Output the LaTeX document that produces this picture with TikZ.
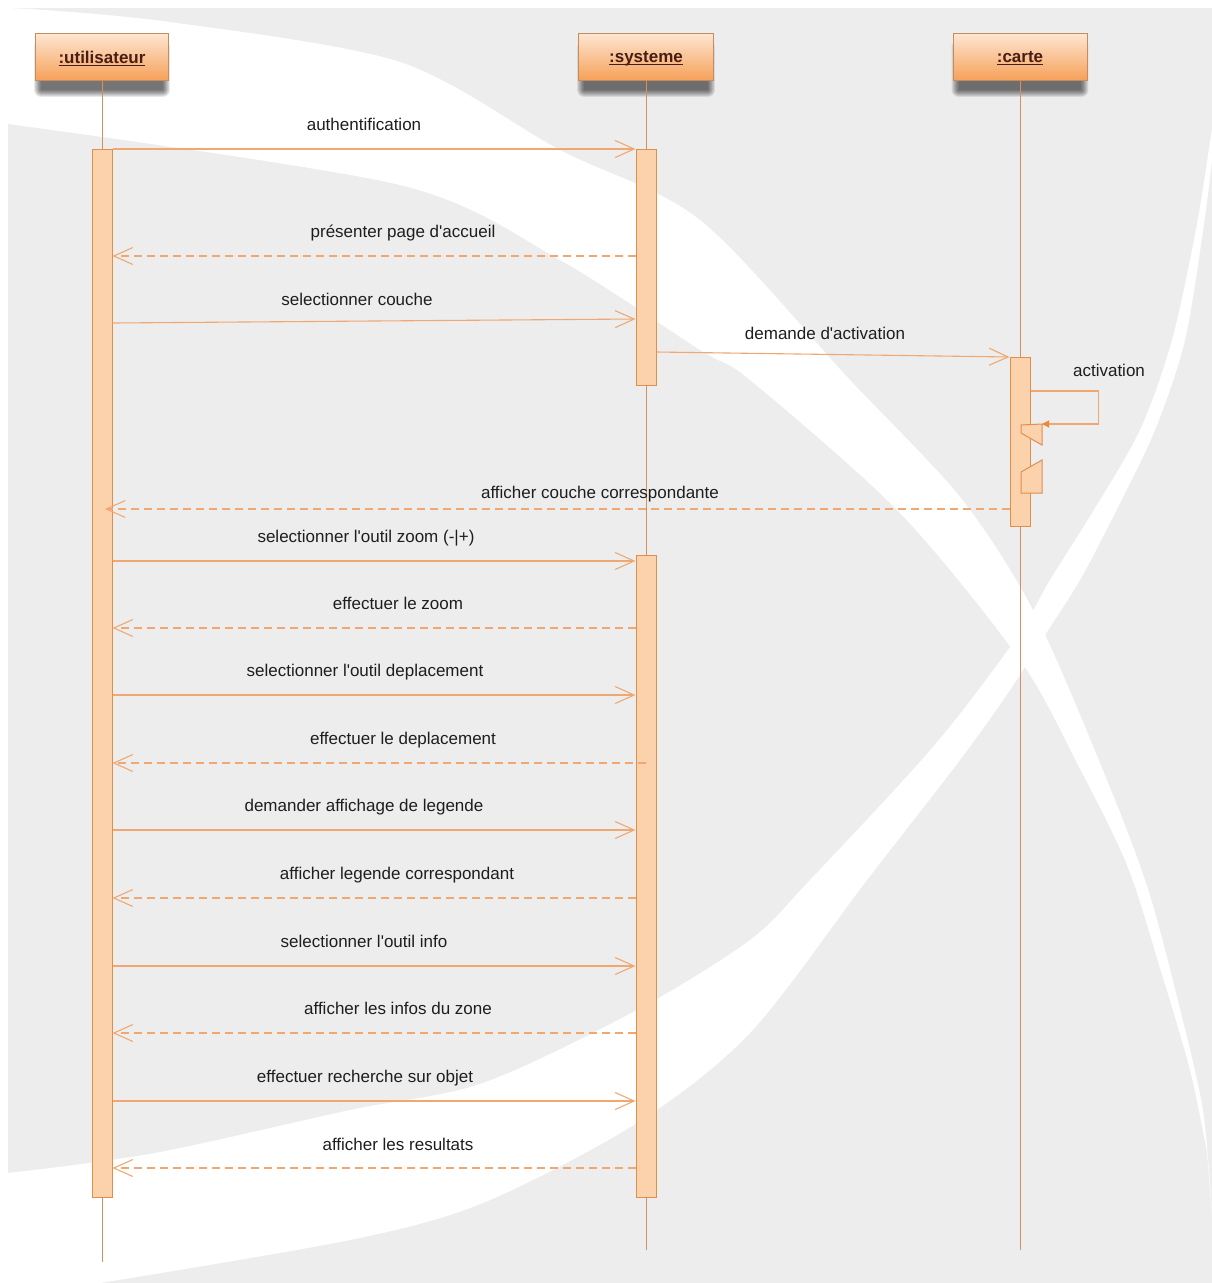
\documentclass[tikz,border=0pt]{standalone}
\usepackage{fontspec}
\setmainfont{Liberation Sans}
\usetikzlibrary{arrows.meta,calc}

\definecolor{backdropgray}{RGB}{237,237,237}
\definecolor{msgcol}{RGB}{240,168,112}
\definecolor{lifecol}{RGB}{210,146,96}
\definecolor{actfill}{RGB}{252,210,172}
\definecolor{actedge}{RGB}{224,142,76}
\definecolor{headtop}{RGB}{253,230,210}
\definecolor{headbot}{RGB}{246,160,88}
\definecolor{headedge}{RGB}{198,140,94}
\definecolor{headtext}{RGB}{72,30,20}
\definecolor{labeltext}{RGB}{30,30,30}
\definecolor{tipcol}{RGB}{236,138,52}

\newcommand\apos{\textquotesingle}
% underlined object name for lifeline heads
\newcommand\headul[1]{\setbox0=\hbox{#1}\dimen0=\wd0\relax
  \leavevmode\rlap{\rule[-2.5pt]{\dimen0}{1.1pt}}\box0}

\pgfdeclarelayer{backdrop}
\pgfsetlayers{backdrop,main}

\begin{document}
\begin{tikzpicture}[x=1pt,y=-1pt,
  lifehead/.style={draw=headedge, line width=0.8pt, top color=headtop, bottom color=headbot,
    minimum height=47pt, inner sep=0pt, text depth=0pt,
    font=\fontsize{17}{20}\selectfont\bfseries, text=headtext},
  actbar/.style={draw=actedge, fill=actfill, line width=1pt, minimum width=20pt, inner sep=0pt},
  nested/.style={draw=actedge, fill=actfill, line width=1pt, line join=miter},
  life/.style={draw=lifecol, line width=1pt},
  call/.style={draw=msgcol, line width=1.1pt, -{Straight Barb[length=19pt,width=17pt,line width=1.1pt]}},
  reply/.style={call, dash pattern=on 8pt off 5pt},
  selfcall/.style={draw=msgcol, line width=1.1pt, -{Triangle[length=7pt,width=7pt,color=tipcol,fill=tipcol]}},
  lbl/.style={font=\fontsize{17}{20}\selectfont, text=labeltext, inner sep=0pt, anchor=base},
]
\useasboundingbox (0,0) rectangle (1212,1283);

% ---------- backdrop: grey field crossed by two white swooshes ----------
\begin{pgfonlayer}{backdrop}
  \fill[white] (0,0) rectangle (1212,1283);
  \fill[backdropgray] (8,8) rectangle (1212,1283);
  % swoosh running from the top left down to the right edge
  \fill[white] (8,8) -- plot[smooth,tension=0.5] coordinates {(30,9) (170,22) (400,62) (560,150) (700,220) (850,380) (960,497) (1033,610) (1100,763) (1147,886) (1180,1009) (1203,1111) (1212,1214)}
    -- plot[smooth,tension=0.5] coordinates {(1207,1152) (1190,1070) (1160,968) (1127,865) (1077,763) (1020,660) (900,513) (750,380) (700,350) (560,260) (400,185) (8,124)} -- cycle;
  % swoosh running from the bottom left up to the right edge
  \fill[white] plot[smooth,tension=0.5] coordinates {(1212,128) (1197,224) (1172,340) (1140,430) (1092,513) (1050,580) (1015,640) (933,747) (810,880) (750,940) (637,1010) (483,1083) (350,1110) (155,1153) (8,1173)}
    -- (0,1173) -- (0,1283)
    -- plot[smooth,tension=0.5] coordinates {(100,1283) (350,1240) (483,1203) (637,1123) (750,1033) (867,880) (960,760) (1010,690) (1045,635) (1080,580) (1115,513) (1155,430) (1185,340) (1204,224) (1212,160)} -- cycle;
\end{pgfonlayer}

% ---------- lifeline heads ----------
\node[lifehead, minimum width=133pt] (u) at (102,57) {\headul{:utilisateur}};
\node[lifehead, minimum width=135pt] (s) at (646,57) {\headul{:systeme}};
\node[lifehead, minimum width=134pt] (c) at (1020,57) {\headul{:carte}};

% soft drop shadows under the heads
\begin{pgfonlayer}{backdrop}
  \foreach \h in {u,s,c}{
    \foreach \r in {0,1,...,7}{
      \fill[black, opacity=0.09, rounded corners=\r pt]
        ($(\h.north west)+(6-\r,14-\r)$) rectangle ($(\h.south east)+(-6+\r,9+\r)$);
    }
  }
\end{pgfonlayer}

% ---------- lifelines ----------
\coordinate (uend) at (102,1262);
\coordinate (send) at (646,1250);
\coordinate (cend) at (1020,1250);
\draw[life] (u.south) -- (uend);
\draw[life] (s.south) -- (send);
\draw[life] (c.south) -- (cend);

% ---------- activation bars ----------
\node[actbar, minimum height=1048pt] (ubar) at (102,673) {};
\node[actbar, minimum height=236pt] (sbar1) at (646,267) {};
\node[actbar, minimum height=642pt] (sbar2) at (646,876) {};
\node[actbar, minimum height=169pt] (cbar) at (1020,441.5) {};

% nested activation of the self call on :carte
\draw[nested] (1021,425) -- (1042,424) -- (1042,445) -- (1021,433) -- cycle;
\draw[nested] (1021,472) -- (1042,460) -- (1042,493) -- (1021,493) -- cycle;

% ---------- message rows ----------
\coordinate (m1) at (0,149);
\coordinate (m2) at (0,256);
\coordinate (m3a) at (0,323);
\coordinate (m3b) at (0,319);
\coordinate (m4a) at (0,352);
\coordinate (m4b) at (0,357);
\coordinate (m5a) at (0,391);
\coordinate (m5b) at (1042,424);
\coordinate (m6) at (0,509);
\coordinate (m7) at (0,561);
\coordinate (m8) at (0,628);
\coordinate (m9) at (0,695);
\coordinate (m10) at (0,763);
\coordinate (m11) at (0,830);
\coordinate (m12) at (0,898);
\coordinate (m13) at (0,966);
\coordinate (m14) at (0,1033);
\coordinate (m15) at (0,1101);
\coordinate (m16) at (0,1168);

\draw[call]  (ubar.east |- m1) -- (sbar1.west |- m1);
\draw[reply] (sbar1.west |- m2) -- (ubar.east |- m2);
\draw[call]  (ubar.east |- m3a) -- (sbar1.west |- m3b);
\draw[call]  (sbar1.east |- m4a) -- (cbar.west |- m4b);
\draw[selfcall] (cbar.east |- m5a) -- ++(68,0) |- (m5b);
\draw[reply] (cbar.west |- m6) -- ([xshift=3pt]ubar.center |- m6);
\draw[call]  (ubar.east |- m7) -- (sbar2.west |- m7);
\draw[reply] (sbar2.west |- m8) -- (ubar.east |- m8);
\draw[call]  (ubar.east |- m9) -- (sbar2.west |- m9);
\draw[reply] (sbar2.center |- m10) -- (ubar.east |- m10);
\draw[call]  (ubar.east |- m11) -- (sbar2.west |- m11);
\draw[reply] (sbar2.west |- m12) -- (ubar.east |- m12);
\draw[call]  (ubar.east |- m13) -- (sbar2.west |- m13);
\draw[reply] (sbar2.west |- m14) -- (ubar.east |- m14);
\draw[call]  (ubar.east |- m15) -- (sbar2.west |- m15);
\draw[reply] (sbar2.west |- m16) -- (ubar.east |- m16);

% ---------- message labels ----------
\node[lbl] (t1)  at (364,130)  {authentification};
\node[lbl] (t2)  at (403,237)  {présenter page d\apos accueil};
\node[lbl] (t3)  at (357,305)  {selectionner couche};
\node[lbl] (t4)  at (825,339)  {demande d\apos activation};
\node[lbl] (t5)  at (1109,376) {activation};
\node[lbl] (t6)  at (600,498)  {afficher couche correspondante};
\node[lbl] (t7)  at (366,542)  {selectionner l\apos outil zoom (-|+)};
\node[lbl] (t8)  at (398,609)  {effectuer le zoom};
\node[lbl] (t9)  at (365,676)  {selectionner l\apos outil deplacement};
\node[lbl] (t10) at (403,744)  {effectuer le deplacement};
\node[lbl] (t11) at (364,811)  {demander affichage de legende};
\node[lbl] (t12) at (397,879)  {afficher legende correspondant};
\node[lbl] (t13) at (364,947)  {selectionner l\apos outil info};
\node[lbl] (t14) at (398,1014) {afficher les infos du zone};
\node[lbl] (t15) at (365,1082) {effectuer recherche sur objet};
\node[lbl] (t16) at (398,1150) {afficher les resultats};
\end{tikzpicture}
\end{document}
